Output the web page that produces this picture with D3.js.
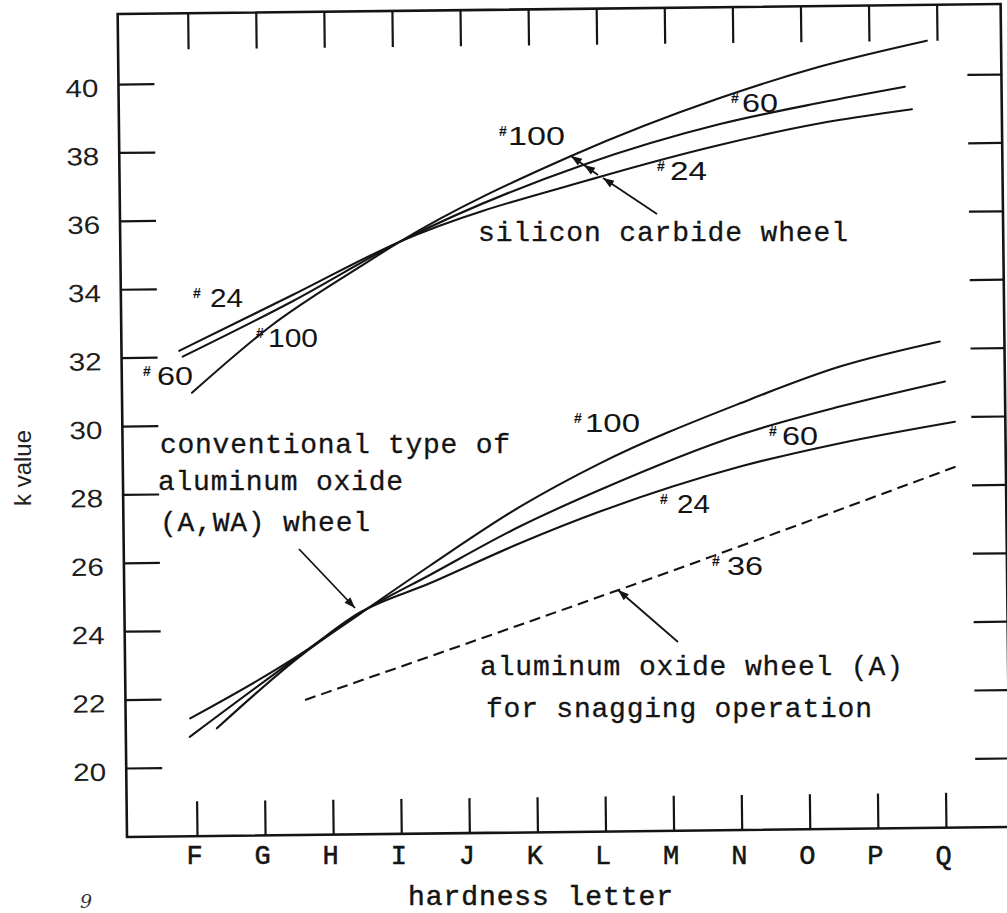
<!DOCTYPE html>
<html><head><meta charset="utf-8">
<script src="https://cdn.jsdelivr.net/npm/d3@7"></script>
<style>
body{margin:0;background:#fff;}
svg{display:block;}
</style></head><body>
<svg id="chart" width="1007" height="913"></svg>
<script>
// ---------- data ----------
const hardnessLetters = ["F","G","H","I","J","K","L","M","N","O","P","Q"];
const kTicks = [20,22,24,26,28,30,32,34,36,38,40];
// each point: [hardness position (F = 0 ... Q = 11), k value]
// silicon carbide wheel
const sic24  = [[-0.18,32.18],[1.5,33.78],[3.08,35.30],[6.03,37.13],[7.79,38.02],[9.27,38.62],[10.62,39.0]];
const sic60  = [[-0.13,32.01],[1.5,33.60],[3.08,35.30],[5.78,37.48],[7.80,38.63],[9.27,39.22],[10.52,39.66]];
const sic100 = [[0.0,30.95],[1.16,32.86],[2.49,34.58],[3.08,35.30],[5.59,37.73],[7.80,39.39],[9.28,40.28],[10.85,41.0]];
// conventional aluminum oxide (A, WA) wheel
const alo24  = [[-0.08,21.43],[1.59,23.32],[2.43,24.47],[3.46,25.30],[4.79,26.44],[5.97,27.34],[8.04,28.61],[9.51,29.26],[11.20,29.85]];
const alo60  = [[-0.09,20.89],[1.59,23.30],[2.43,24.45],[3.47,25.55],[4.79,26.93],[5.97,27.97],[8.04,29.54],[9.51,30.33],[11.06,31.03]];
const alo100 = [[0.31,21.13],[1.59,23.28],[2.43,24.43],[3.47,25.82],[4.80,27.51],[5.98,28.75],[8.05,30.46],[9.52,31.50],[10.99,32.20]];
// aluminum oxide wheel (A) for snagging operation, #36 (dashed)
const snag36 = [[1.61,21.93],[7.62,26.0],[11.24,28.56]];

// ---------- drawing ----------
const W = 1007, H = 913;
const svg = d3.select("#chart");
svg.append("rect").attr("width", W).attr("height", H).attr("fill", "#fff");

const frame = {left: 127, right: 1010, top: 14, bottom: 837};
const x = d3.scaleLinear().domain([0, hardnessLetters.length - 1]).range([197, 946]);
const y = d3.scaleLinear().domain([20, 40]).range([768, 84]);
const ink = "#141414";
const mono = "'Liberation Mono', 'Courier New', monospace";
const sans = "'Liberation Sans', Arial, sans-serif";

// the scanned drawing is slightly rotated
const g = svg.append("g").attr("transform", `rotate(-0.65 ${frame.left} ${frame.bottom})`);

g.append("rect")
  .attr("x", frame.left).attr("y", frame.top)
  .attr("width", frame.right - frame.left).attr("height", frame.bottom - frame.top)
  .attr("fill", "none").attr("stroke", ink).attr("stroke-width", 2.6);

function styleAxis(sel) {
  sel.select(".domain").remove();
  sel.selectAll(".tick line").attr("stroke", ink).attr("stroke-width", 2.2);
}
const idx = d3.range(hardnessLetters.length);

const axL = g.append("g").attr("transform", `translate(${frame.left},0)`)
  .call(d3.axisLeft(y).tickValues(kTicks).tickSizeInner(-36).tickSizeOuter(0).tickPadding(20));
styleAxis(axL);
axL.selectAll("text").attr("font-family", sans).attr("font-size", 25)
  .attr("dy", "0.48em").attr("fill", "#1e1e1e")
  .attr("textLength", 33).attr("lengthAdjust", "spacingAndGlyphs");

const axR = g.append("g").attr("transform", `translate(${frame.right},0)`)
  .call(d3.axisRight(y).tickValues(kTicks).tickSizeInner(-34).tickSizeOuter(0).tickFormat(""));
styleAxis(axR);

const axT = g.append("g").attr("transform", `translate(0,${frame.top})`)
  .call(d3.axisTop(x).tickValues(idx).tickSizeInner(-36).tickSizeOuter(0).tickFormat(""));
styleAxis(axT);

const axB = g.append("g").attr("transform", `translate(0,${frame.bottom})`)
  .call(d3.axisBottom(x).tickValues(idx).tickSizeInner(-35).tickSizeOuter(0).tickFormat(""));
styleAxis(axB);

// curves
const line = d3.line().x(d => x(d[0])).y(d => y(d[1])).curve(d3.curveMonotoneX);
[sic24, sic60, sic100, alo24, alo60, alo100].forEach(s => {
  g.append("path").attr("d", line(s)).attr("fill", "none")
    .attr("stroke", ink).attr("stroke-width", 2.1).attr("stroke-linecap", "round");
});
g.append("path").attr("d", line(snag36)).attr("fill", "none")
  .attr("stroke", ink).attr("stroke-width", 2.1).attr("stroke-dasharray", "11,6");

// hardness letters (typed horizontally)
const axLetters = svg.append("g").attr("transform", `translate(-3,${frame.bottom})`)
  .call(d3.axisBottom(x).tickValues(idx).tickFormat(i => hardnessLetters[i]).tickSize(0).tickPadding(8));
axLetters.select(".domain").remove();
axLetters.selectAll("text").attr("font-family", mono).attr("font-size", 27)
  .attr("fill", ink).attr("stroke", ink).attr("stroke-width", 0.5);

// axis titles
svg.append("text").attr("x", 408).attr("y", 905).attr("font-family", mono).attr("font-size", 28)
  .attr("textLength", 265).attr("lengthAdjust", "spacing")
  .attr("fill", ink).attr("stroke", ink).attr("stroke-width", 0.5).text("hardness letter");
svg.append("text").attr("transform", "translate(31,468) rotate(-90)").attr("text-anchor", "middle")
  .attr("font-family", sans).attr("font-size", 24).attr("fill", "#222").text("k value");
svg.append("text").attr("x", 80).attr("y", 908).attr("font-family", "'DejaVu Serif', serif")
  .attr("font-style", "italic").attr("font-size", 19).attr("fill", "#333").text("9");

// typed annotations
function typed(str, x0, base, len) {
  svg.append("text").attr("x", x0).attr("y", base).attr("font-family", mono).attr("font-size", 28)
    .attr("textLength", len).attr("lengthAdjust", "spacing").attr("fill", ink)
    .attr("stroke", ink).attr("stroke-width", 0.3).text(str);
}
typed("silicon carbide wheel", 478, 241, 370);
typed("conventional type of", 160, 453, 350);
typed("aluminum oxide", 158, 490, 245);
typed("(A,WA) wheel", 160, 531, 210);
typed("aluminum oxide wheel (A)", 480, 675, 423);
typed("for snagging operation", 486, 717, 386);

// grit number labels
function grit(hx, dx, base, digits, len) {
  svg.append("text").attr("x", hx).attr("y", base - 9).attr("font-family", sans)
    .attr("font-size", 14).attr("font-weight", "bold").attr("fill", ink).text("#");
  svg.append("text").attr("x", dx).attr("y", base).attr("font-family", sans).attr("font-size", 25)
    .attr("textLength", len).attr("lengthAdjust", "spacingAndGlyphs").attr("fill", ink).text(digits);
}
grit(193, 210, 307, "24", 33);
grit(143, 157, 385, "60", 36);
grit(256, 268, 347, "100", 50);
grit(499, 508, 145, "100", 57);
grit(731, 742, 112, "60", 36);
grit(657, 670, 180, "24", 37);
grit(574, 585, 432, "100", 55);
grit(769, 782, 445, "60", 36);
grit(660, 677, 513, "24", 33);
grit(712, 727, 575, "36", 36);

// arrows
function head(tx, ty, fx, fy) {
  const a = Math.atan2(ty - fy, tx - fx), L = 11, w = 4;
  const bx = tx - L * Math.cos(a), by = ty - L * Math.sin(a);
  const px = -Math.sin(a) * w, py = Math.cos(a) * w;
  svg.append("path").attr("d", `M${tx},${ty}L${bx + px},${by + py}L${bx - px},${by - py}Z`).attr("fill", ink);
}
function arrow(x1, y1, x2, y2) {
  svg.append("line").attr("x1", x1).attr("y1", y1).attr("x2", x2).attr("y2", y2)
    .attr("stroke", ink).attr("stroke-width", 1.8);
  head(x2, y2, x1, y1);
}
arrow(657, 214, 603, 178);
svg.append("line").attr("x1", 598).attr("y1", 175).attr("x2", 571).attr("y2", 156)
  .attr("stroke", ink).attr("stroke-width", 1.8);
head(584, 165, 657, 214);
head(571, 156, 657, 214);
arrow(299, 549, 355, 608);
arrow(678, 642, 618, 590);
</script>
</body></html>
